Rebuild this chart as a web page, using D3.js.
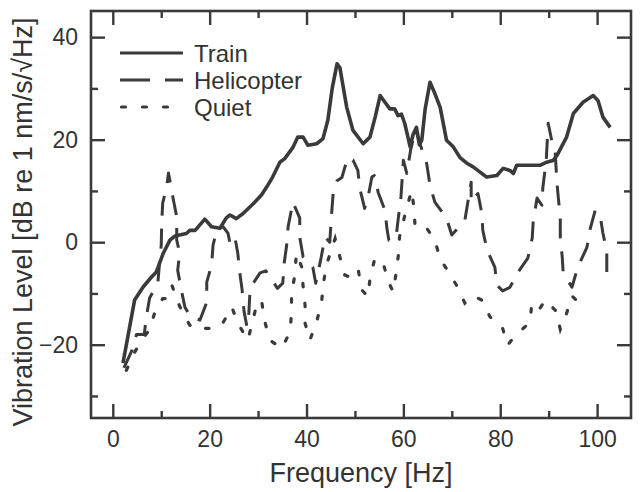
<!DOCTYPE html>
<html>
<head>
<meta charset="utf-8">
<script src="https://cdn.jsdelivr.net/npm/d3@7"></script>
<style>
  body { margin: 0; background: #fff; }
  text { font-family: "Liberation Sans", Arial, Helvetica, sans-serif; fill: #333; }
</style>
</head>
<body>
<script>
var width = 643,
    height = 492,
    margin = {top: 11, right: 12, bottom: 74, left: 91};

// Train (solid)
var trainF = [2.1,4.5,6.3,8,9,10.4,11.8,12.8,15.2,15.9,17,19,20.4,22.1,23.5,24.2,25.5,26.9,29,30.7,
  31.8,33,34.5,35.5,37.2,38.2,39.3,40.3,42.1,43.4,44.4,45.3,46.3,46.9,48.3,49.6,51.7,53.1,54.2,55.2,
  56.2,57.2,58.2,58.9,59.6,60.3,61.4,62,62.7,63.3,63.8,64.5,65.5,66.5,67.6,68.9,70.3,71.7,73.1,74.4,
  77.2,79.3,80.6,82,82.7,83.4,85.5,88.2,89.6,91,91.7,93.7,95.1,97.1,99.2,100.2,101.2,102.7];
var trainV = [-23.6,-11.3,-8.7,-6.8,-5.8,-2.2,0.4,1.2,1.7,2.3,2.3,4.5,3,2.7,4.8,5.3,4.6,5.6,7.5,9.2,
  10.8,12.7,15.6,16.3,18.5,20.5,20.5,18.9,19.2,20.2,23.8,30,34.8,34,26.3,21.8,19.2,20.5,24.5,28.6,
  27.3,26,26,24.7,25,23.1,18.6,21,22.4,19,19.9,26,31.2,29,26.3,19.9,18.6,16.5,15.4,14.7,
  12.7,13,14.4,14,13.4,15,15,15,15.6,16,16.9,20.5,25.1,27.3,28.6,27.6,24.4,22.4];

// Helicopter (dashed)
var heliF = [2.3,4,4.9,6.5,6.9,7.6,9.3,9.7,10,10.1,10.3,11.1,11.5,12.4,13.2,13.2,13.8,13.4,14.3,14.9,
  16,18,19.4,19.4,20.4,20.7,21.5,22.8,23.8,24.2,25.2,25.8,26.2,26.7,27.1,27.7,28.1,28.3,29,30.4,
  31.6,32.9,34,35.1,35.4,35.9,36.2,37.2,38.6,38.6,39.3,41.3,41.9,43,43.8,44.8,45.2,45.5,46.3,47.3,
  48.5,49.6,50.6,51,52,52.7,53.5,54,54.8,56.2,56.6,57,58.5,58.9,59.5,60,60.7,61.5,62.5,63.5,
  64.8,65.5,66.5,68.9,70,72.7,74,74,75.4,76.2,76.4,77.3,78.9,79.3,80.5,82,83.7,85.7,86.6,86.8,
  87.6,88.6,88.8,89.5,89.9,90.7,91.3,91.7,92,92.4,92.4,92.8,93,94.8,96,97.9,98.6,99.6,100.6,101.2,
  102,102];
var heliV = [-24.5,-21,-18,-18,-14.8,-10.9,-8,-3.5,-0.6,3.7,7.6,10.7,13.5,8.8,4.9,0.4,-2.1,-5.5,-10,-12.7,
  -14.5,-15.2,-11.7,-7.8,-4.5,-0.6,2.5,3,1.7,-0.2,1,-2.1,-5.8,-9.3,-13.5,-16.5,-13.8,-10,-8,-6,
  -5.6,-7.4,-9,-8,-4,-0.6,3,7.8,4.7,1,-2.9,-4.9,-8,-3.1,1,0,5.8,9.5,12,12.6,
  16.5,16,14,10.5,6.6,8.8,12.7,13,9.7,6.2,2.7,0.4,1,4.3,8.8,16,13.4,18,22,19,
  15.4,11.1,7.8,4.7,1.4,4.3,11.7,7.8,9.5,5.6,2.3,-1.6,-4.9,-8.4,-9.5,-8.8,-5.8,-3.1,0.8,3.9,
  8.6,7.2,10.7,16,23.2,19.5,18.3,11.7,8.6,4.7,1,-2.9,-6,-8.8,-4.9,-1,2.7,6.2,5.3,1.8,
  -1.9,-5.8];

// Quiet (dotted)
var quietF = [2.8,4.5,6,7.6,8.7,10.3,11.1,12.2,13.8,15.9,17.5,19.4,21,22.7,24.6,25.8,27.9,29.5,30.7,31.4,
  32.4,34.9,36.6,36.9,36.9,37.6,37.9,39,39.3,39.7,39.7,40.7,42.1,43.1,43.5,44.1,45.9,46.9,47.9,49.6,
  50.7,51.4,52.7,53.1,54.1,55.8,56.9,57.9,58.5,59,59.2,60.5,61.7,62.2,62.4,64.4,66.5,67.6,69.2,71.1,
  72.7,74.5,76.2,77.9,80.4,81.5,83.2,86.2,86.5,88.2,89.3,91.5,92.4,93.7,94.8,96.5,98.4];
var quietV = [-25,-21.5,-19,-17.1,-13.6,-11,-11,-8.4,-12.5,-16.2,-17,-16.8,-16.8,-15.8,-12.7,-15.8,-19.1,-13,-11.3,-15.5,
  -19.1,-20.7,-17.5,-13.9,-10,-6.4,-2.2,-4.8,-8.7,-12.3,-15.8,-19.1,-15.5,-11.8,-8,-4.5,0.7,-2.9,-6.4,-7.1,
  -5.5,-9.3,-10.6,-7.1,-3.2,-4,-7.7,-9.7,-6,-2.3,1,6,10.1,6.6,3.3,3.3,0.4,-3.3,-5.6,-8.6,
  -11.9,-10.5,-11.3,-14.6,-16.5,-20.1,-18.1,-15.6,-11.8,-12.9,-11.3,-13.4,-17,-13.9,-10.5,-12,-11.3];

var xMajor = [0, 20, 40, 60, 80, 100],
    xMinor = [10, 30, 50, 70, 90],
    yMajor = [-20, 0, 20, 40],
    yMinor = [-30, -10, 10, 30];

var legendNames = ["Train", "Helicopter", "Quiet"];

var ink = "#3a3a3a";

var svg = d3.select("body").append("svg")
    .attr("width", width)
    .attr("height", height);

var x = d3.scaleLinear().domain([-4.5, 107]).range([margin.left, width - margin.right]);
var y = d3.scaleLinear().domain([-34.3, 45.1]).range([height - margin.bottom, margin.top]);

function addAxis(axis, tx, ty) {
  var g = svg.append("g")
      .attr("transform", "translate(" + tx + "," + ty + ")")
      .call(axis);
  g.select(".domain").remove();
  g.selectAll(".tick line").attr("stroke", ink).attr("stroke-width", 2.4);
  g.selectAll(".tick text")
      .attr("fill", "#333")
      .style("font-size", "23px")
      .style("font-family", '"Liberation Sans", Arial, sans-serif');
  return g;
}

var x0 = margin.left, x1 = width - margin.right,
    y0 = margin.top, y1 = height - margin.bottom;

// major + minor ticks, all pointing inward
addAxis(d3.axisBottom(x).tickValues(xMajor).tickSize(-14).tickPadding(13), 0, y1);
addAxis(d3.axisBottom(x).tickValues(xMinor).tickSize(-7).tickFormat(""), 0, y1);
addAxis(d3.axisTop(x).tickValues(xMajor).tickSize(-14).tickFormat(""), 0, y0);
addAxis(d3.axisTop(x).tickValues(xMinor).tickSize(-7).tickFormat(""), 0, y0);
addAxis(d3.axisLeft(y).tickValues(yMajor).tickSize(-14).tickPadding(13), x0, 0);
addAxis(d3.axisLeft(y).tickValues(yMinor).tickSize(-7).tickFormat(""), x0, 0);
addAxis(d3.axisRight(y).tickValues(yMajor).tickSize(-14).tickFormat(""), x1, 0);
addAxis(d3.axisRight(y).tickValues(yMinor).tickSize(-7).tickFormat(""), x1, 0);

svg.append("rect")
    .attr("x", x0).attr("y", y0)
    .attr("width", x1 - x0).attr("height", y1 - y0)
    .attr("fill", "none")
    .attr("stroke", ink)
    .attr("stroke-width", 2.6);

var line = d3.line()
    .x(function(d) { return x(d[0]); })
    .y(function(d) { return y(d[1]); });

function pairs(fs, vs) {
  return fs.map(function(f, i) { return [f, vs[i]]; });
}

svg.append("path")
    .datum(pairs(quietF, quietV))
    .attr("d", line)
    .attr("fill", "none")
    .attr("stroke", ink)
    .attr("stroke-width", 3.2)
    .attr("stroke-linecap", "round")
    .attr("stroke-dasharray", "3.5,16.5");

svg.append("path")
    .datum(pairs(heliF, heliV))
    .attr("d", line)
    .attr("fill", "none")
    .attr("stroke", ink)
    .attr("stroke-width", 3)
    .attr("stroke-linejoin", "round")
    .attr("stroke-dasharray", "20,13");

svg.append("path")
    .datum(pairs(trainF, trainV))
    .attr("d", line)
    .attr("fill", "none")
    .attr("stroke", ink)
    .attr("stroke-width", 3.6)
    .attr("stroke-linejoin", "round");

// legend
var legend = svg.append("g").attr("class", "legend");
var dashes = ["none", "30,15", "4,17"];
var ends = [183, 183, 168];
legendNames.forEach(function(name, i) {
  var ly = 53 + i * 27;
  legend.append("line")
      .attr("x1", i == 2 ? 121.5 : 120).attr("x2", ends[i])
      .attr("y1", ly).attr("y2", ly)
      .attr("stroke", ink)
      .attr("stroke-width", 3.2)
      .attr("stroke-linecap", i == 2 ? "round" : "butt")
      .attr("stroke-dasharray", dashes[i]);
  legend.append("text")
      .attr("x", 194)
      .attr("y", ly + 9)
      .style("font-size", "24px")
      .text(name);
});

svg.append("text")
    .attr("x", (x0 + x1) / 2)
    .attr("y", 482)
    .attr("text-anchor", "middle")
    .style("font-size", "27px")
    .text("Frequency [Hz]");

svg.append("text")
    .attr("transform", "translate(32," + 222 + ") rotate(-90)")
    .attr("text-anchor", "middle")
    .style("font-size", "27px")
    .text("Vibration Level [dB re 1 nm/s/√Hz]");
</script>
</body>
</html>
